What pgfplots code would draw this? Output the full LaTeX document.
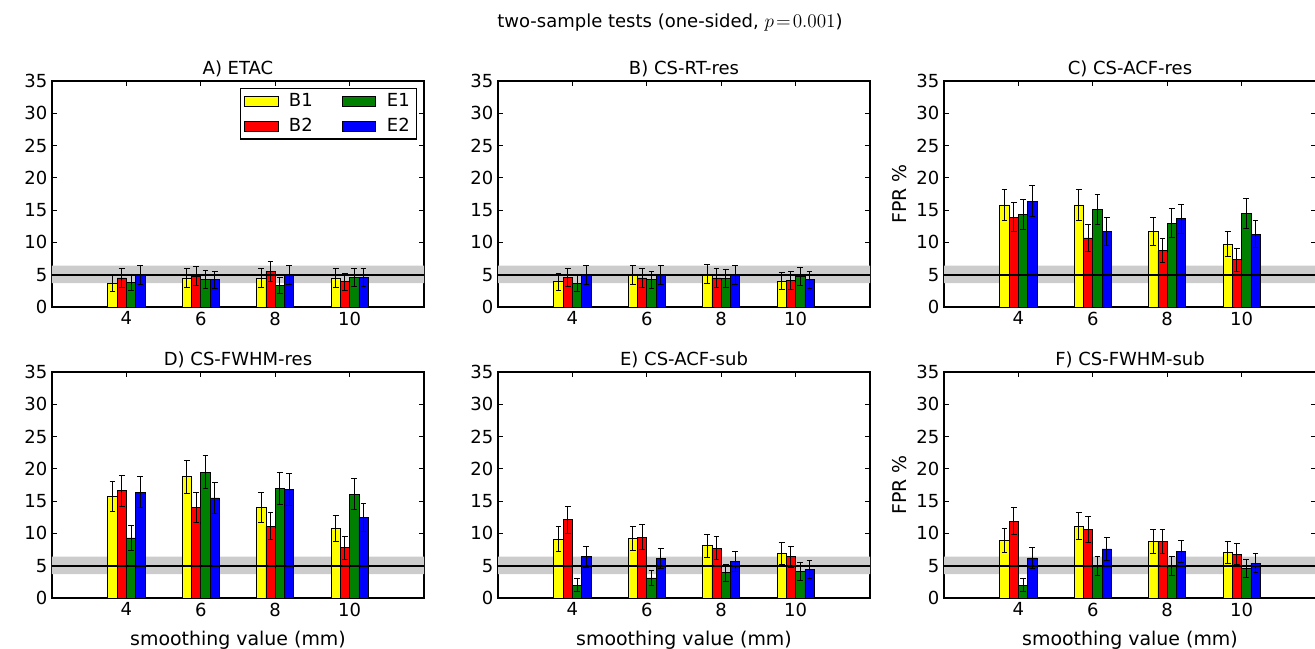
\documentclass[border=0pt]{standalone}
\usepackage{pgfplots}
\pgfplotsset{compat=1.18}
\usepackage{pgfplotstable}
\usepackage{fontspec}
\setmainfont{DejaVu Sans}
\definecolor{mplyellow}{rgb}{1,1,0}
\definecolor{mplred}{rgb}{1,0,0}
\definecolor{mplgreen}{rgb}{0,0.5,0}
\definecolor{mplblue}{rgb}{0,0,1}
\definecolor{bandgray}{gray}{0.8}

\pgfplotstableread{
x  B1   eB1  B2   eB2  E1   eE1  E2   eE2
4  3.7  1.29 4.5  1.40 3.8  1.31 4.9  1.46
6  4.5  1.40 4.8  1.45 4.3  1.38 4.2  1.36
8  4.5  1.40 5.5  1.55 3.3  1.23 4.9  1.46
10 4.5  1.40 3.9  1.32 4.6  1.42 4.6  1.42
}\tabA
\pgfplotstableread{
x  B1   eB1  B2   eB2  E1   eE1  E2   eE2
4  3.9  1.32 4.6  1.42 3.6  1.27 4.9  1.46
6  4.9  1.46 4.5  1.40 4.2  1.36 4.9  1.46
8  5.1  1.48 4.5  1.40 4.4  1.39 4.9  1.46
10 4.0  1.33 4.1  1.35 4.7  1.43 4.2  1.36
}\tabB
\pgfplotstableread{
x  B1   eB1  B2   eB2  E1   eE1  E2   eE2
4  15.8 2.38 13.9 2.26 14.3 2.29 16.4 2.41
6  15.8 2.38 10.7 2.04 15.1 2.34 11.7 2.11
8  11.7 2.11 8.7  1.87 13.0 2.20 13.7 2.25
10 9.7  1.95 7.3  1.73 14.5 2.30 11.3 2.08
}\tabC
\pgfplotstableread{
x  B1   eB1  B2   eB2  E1   eE1  E2   eE2
4  15.7 2.37 16.6 2.43 9.3  1.92 16.4 2.41
6  18.8 2.54 14.0 2.27 19.5 2.58 15.5 2.36
8  14.0 2.27 11.1 2.07 17.0 2.45 16.8 2.44
10 10.8 2.04 7.8  1.78 16.1 2.40 12.5 2.17
}\tabD
\pgfplotstableread{
x  B1   eB1  B2   eB2  E1   eE1  E2   eE2
4  9.1  1.90 12.1 2.14 2.0  0.99 6.4  1.64
6  9.2  1.91 9.4  1.93 3.1  1.19 6.1  1.60
8  8.1  1.81 7.7  1.77 3.9  1.32 5.6  1.55
10 6.9  1.69 6.4  1.64 4.1  1.35 4.4  1.39
}\tabE
\pgfplotstableread{
x  B1   eB1  B2   eB2  E1   eE1  E2   eE2
4  8.9  1.89 11.9 2.13 2.0  0.99 6.2  1.61
6  11.1 2.07 10.6 2.03 4.9  1.46 7.6  1.76
8  8.7  1.87 8.7  1.87 4.9  1.46 7.2  1.72
10 7.1  1.71 6.8  1.68 4.6  1.42 5.4  1.52
}\tabF

\newcommand{\fs}{\fontsize{13.5}{15}\selectfont}
\newcommand{\fl}{\fontsize{14.2}{16}\selectfont}

\pgfplotsset{
  fpr/.style={
    scale only axis, width=279pt, height=169.5pt,
    anchor=south west,
    xmin=2, xmax=12, ymin=0, ymax=35,
    xtick={4,6,8,10}, ytick={0,5,...,35},
    tick align=inside, major tick length=3.5pt,
    axis line style={line width=0.8pt},
    every tick/.style={black, line width=0.6pt},
    /pgf/number format/assume math mode=true,
    tick label style={font=\fs},
    label style={font=\fl},
    xlabel style={yshift=-4.5pt},
    title style={font=\fs, yshift=-6.5pt},
    clip=true,
  },
  fprbar/.style={ybar, bar width=0.25, bar shift=0, draw=black, line width=0.6pt,
    error bars/y dir=both, error bars/y explicit,
    error bars/error bar style={black, line width=0.7pt},
    error bars/error mark options={rotate=90, mark size=2.2pt, line width=0.7pt, black}},
}

\newcommand{\fprplots}[1]{%
  \addplot[fill=bandgray, draw=none, forget plot] coordinates {(2,3.7) (12,3.7) (12,6.4) (2,6.4) (2,3.7)};
  \addplot[fprbar, fill=mplyellow] table[x expr=\thisrow{x}-0.375, y=B1, y error=eB1] {#1};
  \addplot[fprbar, fill=mplgreen]  table[x expr=\thisrow{x}+0.125, y=E1, y error=eE1] {#1};
  \addplot[fprbar, fill=mplred]    table[x expr=\thisrow{x}-0.125, y=B2, y error=eB2] {#1};
  \addplot[fprbar, fill=mplblue]   table[x expr=\thisrow{x}+0.375, y=E2, y error=eE2] {#1};
  \addplot[black, line width=1.6pt, forget plot] coordinates {(2,5) (12,5)};
}

\begin{document}
\begin{tikzpicture}
\useasboundingbox (0,0) rectangle (986.25pt,486.75pt);

\node at (502.5pt,469.5pt) {\fs two-sample tests (one-sided, $p\!=\!0.001$)};

\begin{axis}[fpr, at={(39pt,256.5pt)}, title={A) ETAC},
  legend columns=2,
  legend image code/.code={\draw[#1, line width=0.6pt] (0pt,-3.75pt) rectangle (25pt,3.75pt); \path (31pt,0pt);},
  legend style={at={(rel axis cs:0.981,0.969)}, anchor=north east,
    draw=black, line width=0.8pt, fill=white,
    inner xsep=3pt, inner ysep=2pt, row sep=3pt,
    font=\fs,
    /tikz/every even column/.append style={column sep=20pt}},
  legend cell align=left]
\fprplots{\tabA}
\legend{B1,E1,B2,E2}
\end{axis}

\begin{axis}[fpr, at={(373.5pt,256.5pt)}, title={B) CS-RT-res}]
\fprplots{\tabB}
\end{axis}

\begin{axis}[fpr, at={(708pt,256.5pt)}, title={C) CS-ACF-res}, ylabel={FPR \%}]
\fprplots{\tabC}
\end{axis}

\begin{axis}[fpr, at={(39pt,38.25pt)}, title={D) CS-FWHM-res}, xlabel={smoothing value (mm)}]
\fprplots{\tabD}
\end{axis}

\begin{axis}[fpr, at={(373.5pt,38.25pt)}, title={E) CS-ACF-sub}, xlabel={smoothing value (mm)}]
\fprplots{\tabE}
\end{axis}

\begin{axis}[fpr, at={(708pt,38.25pt)}, title={F) CS-FWHM-sub}, xlabel={smoothing value (mm)}, ylabel={FPR \%}]
\fprplots{\tabF}
\end{axis}
\end{tikzpicture}
\end{document}
